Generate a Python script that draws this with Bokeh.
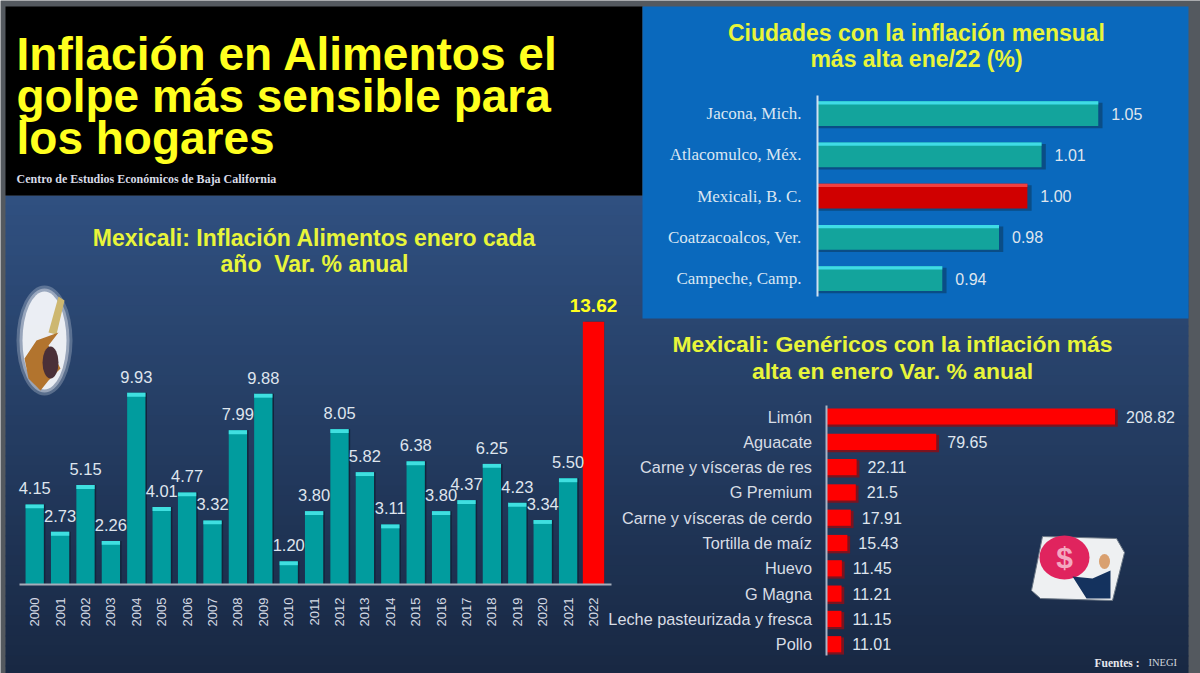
from bokeh.plotting import figure
from bokeh.embed import file_html
from bokeh.resources import INLINE
from bokeh.models import Range1d, LinearAxis, FixedTicker
from bokeh.core.properties import value
import math

years = list(range(2000, 2023))
food_inflation = [4.15, 2.73, 5.15, 2.26, 9.93, 4.01, 4.77, 3.32, 7.99, 9.88, 1.20, 3.80,
                  8.05, 5.82, 3.11, 6.38, 3.80, 4.37, 6.25, 4.23, 3.34, 5.50, 13.62]
food_labels = ["4.15", "2.73", "5.15", "2.26", "9.93", "4.01", "4.77", "3.32", "7.99", "9.88", "1.20", "3.80",
               "8.05", "5.82", "3.11", "6.38", "3.80", "4.37", "6.25", "4.23", "3.34", "5.50", "13.62"]

cities = ["Jacona, Mich.", "Atlacomulco, Méx.", "Mexicali, B. C.", "Coatzacoalcos, Ver.", "Campeche, Camp."]
city_inflation = [1.05, 1.01, 1.00, 0.98, 0.94]
city_labels = ["1.05", "1.01", "1.00", "0.98", "0.94"]

generics = ["Limón", "Aguacate", "Carne y vísceras de res", "G Premium", "Carne y vísceras de cerdo",
            "Tortilla de maíz", "Huevo", "G Magna", "Leche pasteurizada y fresca", "Pollo"]
generic_inflation = [208.82, 79.65, 22.11, 21.5, 17.91, 15.43, 11.45, 11.21, 11.15, 11.01]
generic_labels = ["208.82", "79.65", "22.11", "21.5", "17.91", "15.43", "11.45", "11.21", "11.15", "11.01"]

L, R, T, B = 0, 1200, 0, 673
SANS = "Liberation Sans"
SERIF = "Liberation Serif"
YELLOW = "#ffff1f"
TITLE_Y = "#e8f53a"
LIGHT = "#dfe5ee"
GRAY = "#54595f"

p = figure(width=R - L, height=B - T, x_range=Range1d(L, R), y_range=Range1d(B, T),
           x_axis_type=None, y_axis_type=None, toolbar_location=None, output_backend="svg",
           min_border=0, outline_line_color=None, background_fill_color=GRAY,
           border_fill_color=GRAY)
p.grid.visible = False


def add_range(axis, name, px0, data0, ppu):
    if axis == "x":
        p.extra_x_ranges[name] = Range1d((L - px0) / ppu + data0, (R - px0) / ppu + data0)
    else:
        p.extra_y_ranges[name] = Range1d((B - px0) / ppu + data0, (T - px0) / ppu + data0)


add_range("x", "yrx", 34.2, 2000, 25.4)
add_range("y", "yry", 584, 0, -19.3)
add_range("x", "cx", 817, 0.852, 1418)
add_range("y", "cy", 113, 0, 41.25)
add_range("x", "gx", 825.5, 0, 1.384)
add_range("y", "gy", 416, 0, 25.3)

# ---- backgrounds
N = 48
for i in range(N):
    f = i / (N - 1)
    c = "#%02x%02x%02x" % (round(0x30 + (0x18 - 0x30) * f), round(0x50 + (0x28 - 0x50) * f), round(0x80 + (0x43 - 0x80) * f))
    p.quad(left=5, right=1188, top=195 + i * 10, bottom=195 + (i + 1) * 10 + 1, fill_color=c, line_color=None)
p.quad(left=5, right=642, top=6, bottom=195, fill_color="#000000", line_color=None)
p.quad(left=642, right=1188, top=6, bottom=318, fill_color="#0a69bd", line_color=None)


def txt(x, y, s, size, color, font=SANS, style="normal", align="center", **kw):
    p.text(x=[x], y=[y], text=[s], text_font=value(font), text_font_size=f"{size}px",
           text_font_style=style, text_color=color, text_align=align, text_baseline="middle", **kw)


# ---- headline
txt(16, 53, "Inflación en Alimentos el", 46, YELLOW, style="bold", align="left")
txt(16, 95, "golpe más sensible para", 46, YELLOW, style="bold", align="left")
txt(16, 137, "los hogares", 46, YELLOW, style="bold", align="left")
txt(16, 178, "Centro de Estudios Económicos de Baja California", 12, "#d8dbe6", font=SERIF, style="bold", align="left")

# ---- chart titles
txt(314, 237, "Mexicali: Inflación Alimentos enero cada", 23, TITLE_Y, style="bold")
txt(314, 263, "año \u00a0Var. % anual", 23, TITLE_Y, style="bold")
txt(916, 32, "Ciudades con la inflación mensual", 23, TITLE_Y, style="bold")
txt(916, 58, "más alta ene/22 (%)", 23, TITLE_Y, style="bold")
txt(892, 343, "Mexicali: Genéricos con la inflación más", 22.9, TITLE_Y, style="bold")
txt(892, 370, "alta en enero Var. % anual", 22.9, TITLE_Y, style="bold")

# ---- yearly chart
yr = dict(x_range_name="yrx", y_range_name="yry")
teal_y, teal_v = years[:-1], food_inflation[:-1]
p.vbar(x=[y + 0.05 for y in years], top=food_inflation, width=0.74, bottom=0, fill_color="#14233c", line_color=None, **yr)
p.vbar(x=teal_y, top=teal_v, width=0.72, bottom=0, fill_color="#019c9e", line_color=None, **yr)
p.vbar(x=teal_y, top=teal_v, bottom=[v - 0.2 for v in teal_v], width=0.72, fill_color="#3fdfe0", line_color=None, **yr)
p.vbar(x=years[-1:], top=food_inflation[-1:], width=0.84, bottom=0, fill_color="#ff0000", line_color=None, **yr)
p.text(x=teal_y, y=teal_v, text=food_labels[:-1], y_offset=-16, text_font=value(SANS), text_font_size="16.5px",
       text_color=LIGHT, text_align="center", text_baseline="middle", **yr)
p.text(x=years[-1:], y=food_inflation[-1:], text=food_labels[-1:], y_offset=-16, text_font=value(SANS),
       text_font_size="19px", text_font_style="bold", text_color=YELLOW, text_align="center",
       text_baseline="middle", **yr)
ax = LinearAxis(ticker=FixedTicker(ticks=years), fixed_location=0, bounds=(1999.4, 2022.7),
                major_label_overrides={y: str(y) for y in years}, major_label_orientation=math.pi / 2,
                major_label_standoff=7, major_label_text_font=SANS, major_label_text_font_size="13px",
                major_label_text_color="#d5dae4", axis_line_color="#a6adba", axis_line_width=2,
                major_tick_line_color=None, minor_tick_line_color=None, **yr)
p.add_layout(ax, "below")

# ---- city chart
ci = dict(x_range_name="cx", y_range_name="cy")
rows = list(range(len(cities)))
BASE = 0.852
p.hbar(y=[r + 0.05 for r in rows], right=[v + 0.003 for v in city_inflation], left=BASE, height=0.62,
       fill_color="#0a4d86", line_color=None, **ci)
colors = ["#d00000" if c.startswith("Mexicali") else "#13a49c" for c in cities]
tops = ["#f04040" if c.startswith("Mexicali") else "#3fdce6" for c in cities]
p.hbar(y=rows, right=city_inflation, left=BASE, height=0.6, fill_color=colors, line_color=None, **ci)
p.hbar(y=[r - 0.26 for r in rows], right=city_inflation, left=BASE, height=0.08, fill_color=tops, line_color=None, **ci)
p.text(x=city_inflation, y=rows, text=city_labels, x_offset=13, text_font=value(SANS), text_font_size="16px",
       text_color=LIGHT, text_align="left", text_baseline="middle", **ci)
ax = LinearAxis(ticker=FixedTicker(ticks=rows), fixed_location=BASE, bounds=(-0.44, 4.44),
                major_label_overrides=dict(zip(rows, cities)), major_label_standoff=10,
                major_label_text_font=SERIF, major_label_text_font_size="17px", major_label_text_color="#dbe6f2",
                axis_line_color="#cfe0f0", axis_line_width=2,
                major_tick_line_color=None, minor_tick_line_color=None, **ci)
p.add_layout(ax, "left")

# ---- generics chart
ge = dict(x_range_name="gx", y_range_name="gy")
grows = list(range(len(generics)))
p.hbar(y=[r + 0.07 for r in grows], right=[v + 2 for v in generic_inflation], left=0, height=0.68,
       fill_color="#7a1420", line_color=None, **ge)
p.hbar(y=grows, right=generic_inflation, left=0, height=0.64, fill_color="#ff0000", line_color=None, **ge)
p.text(x=generic_inflation, y=grows, text=generic_labels, x_offset=11, text_font=value(SANS), text_font_size="16px",
       text_color=LIGHT, text_align="left", text_baseline="middle", **ge)
ax = LinearAxis(ticker=FixedTicker(ticks=grows), fixed_location=0, bounds=(-0.45, 9.45),
                major_label_overrides=dict(zip(grows, generics)), major_label_standoff=8,
                major_label_text_font=SANS, major_label_text_font_size="16.3px", major_label_text_color="#d8dde5",
                axis_line_color="#a9b4c6", axis_line_width=2,
                major_tick_line_color=None, minor_tick_line_color=None, **ge)
p.add_layout(ax, "left")

# ---- clip-art, approximated
for w, h, a in [(56, 110, 0.25), (50, 104, 0.4), (44, 98, 0.9)]:
    p.ellipse(x=[44], y=[340], width=w, height=h, fill_color="#f4f6fa", fill_alpha=a, line_color=None)
p.patch(x=[48, 58, 64, 56], y=[332, 296, 300, 334], fill_color="#cdb770", line_color=None)
p.patch(x=[24, 36, 58, 48, 60, 48, 40, 28], y=[358, 340, 332, 345, 368, 380, 390, 378],
        fill_color="#b2742e", line_color=None)
p.ellipse(x=[50], y=[362], width=16, height=32, fill_color="#4a3038", line_color=None)
p.patch(x=[1042, 1116, 1124, 1112, 1040, 1031], y=[536, 538, 552, 600, 598, 590],
        fill_color="#eef0f2", line_color="#6c7886")
p.ellipse(x=[1064], y=[557], width=50, height=44, fill_color="#e0245e", line_color=None)
txt(1064, 557, "$", 30, "#f3a8c0", style="bold")
p.patch(x=[1072, 1092, 1110, 1110, 1086], y=[576, 578, 570, 598, 598], fill_color="#14325e", line_color=None)
p.ellipse(x=[1104], y=[561], width=11, height=15, fill_color="#d9a070", line_color=None)

# ---- source
txt(1094, 662, "Fuentes :", 11.5, "#e6e8ee", font=SERIF, style="bold", align="left")
txt(1148, 662, "INEGI", 10.5, "#cfd5de", font=SERIF, align="left")

open("out.html", "w").write(file_html(p, INLINE))
